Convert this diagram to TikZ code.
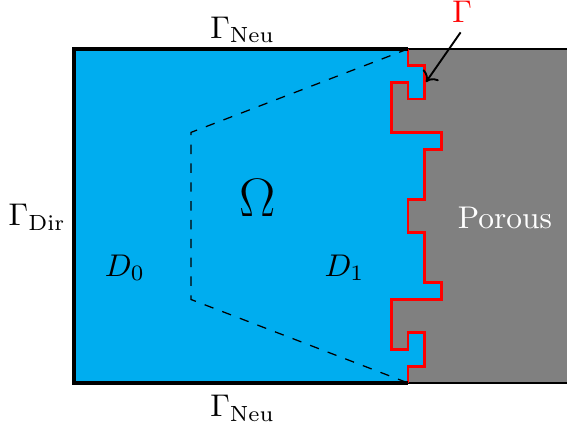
\documentclass[tikz,border=0pt]{standalone}
\usepackage{xcolor}
\usepackage{tikz}
\usetikzlibrary{arrows.meta,positioning,calc}
\definecolor{fluidblue}{RGB}{0,173,239}
\definecolor{porousgray}{RGB}{128,128,128}
\definecolor{ifacered}{RGB}{255,0,0}
\newcommand{\ifacepath}{(20,20) -- (20,19) -- (21,19) -- (21,17) -- (20,17) -- (20,18)
  -- (19,18) -- (19,15) -- (22,15) -- (22,14) -- (21,14) -- (21,11) -- (20,11)
  -- (20,9) -- (21,9) -- (21,6) -- (22,6) -- (22,5) -- (19,5) -- (19,2)
  -- (20,2) -- (20,3) -- (21,3) -- (21,1) -- (20,1) -- (20,0)}
\begin{document}
\begin{tikzpicture}[x=0.187cm,y=0.187cm]
  \useasboundingbox (-4.43,-2.51) rectangle (29.52,22.93);
  % porous medium
  \fill[porousgray] (19,0) rectangle (29.6,20);
  \draw[black,thin] (20,20) -- (29.6,20);
  \draw[black,thin] (20,0) -- (29.6,0);
  % fluid domain
  \fill[fluidblue] (0,0) -- (0,20) -- \ifacepath -- cycle;
  \draw[ifacered,line width=0.9pt] \ifacepath;
  \draw[black,line width=1pt] (20,20) -- (0,20) -- (0,0) -- (20,0);
  \draw[dashed,thin] (20,20) -- (7,15) -- (7,5) -- (20,0);
  % labels
  \node (neutop) at (10.1,21.15) {$\Gamma_{\mathrm{Neu}}$};
  \node (neubot) at (10.1,-1.5) {$\Gamma_{\mathrm{Neu}}$};
  \node (dir) at (-2.2,9.9) {$\Gamma_{\mathrm{Dir}}$};
  \node[font=\LARGE] (omega) at (11,11.1) {$\Omega$};
  \node (dzero) at (3.05,6.9) {$D_0$};
  \node (done) at (16.2,6.9) {$D_1$};
  \node[white] (porous) at (25.8,9.9) {Porous};
  \node[ifacered] (gamma) at (23.25,22.2) {$\Gamma$};
  \coordinate (gtip) at (21.08,18.02);
  \draw[->,black,semithick] (gamma.south) ++(-0.1,0.1) -- (gtip);
\end{tikzpicture}
\end{document}
